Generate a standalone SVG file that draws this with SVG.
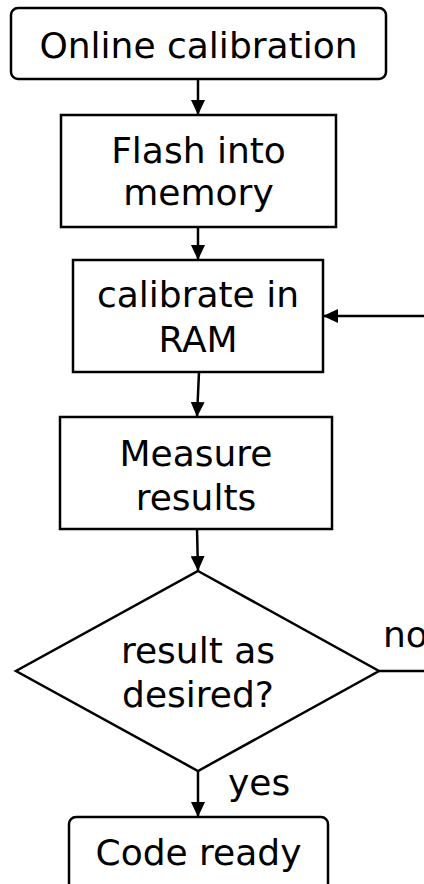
<svg xmlns="http://www.w3.org/2000/svg" width="424" height="884" viewBox="0 0 424 884">
<style>
.s{fill:#fff;stroke:#000;stroke-width:2.5}
.t{font-family:"DejaVu Sans",Verdana,sans-serif;font-size:36px;fill:#000;text-anchor:middle}
.l{font-family:"DejaVu Sans",Verdana,sans-serif;font-size:36px;fill:#000}
.c{fill:none;stroke:#000;stroke-width:2.5}
</style>
<defs>
<marker id="a" markerWidth="15" markerHeight="14" refX="15" refY="7" orient="auto" markerUnits="userSpaceOnUse">
<path d="M0,0 L15,7 L0,14 Z" fill="#000"/>
</marker>
</defs>
<rect width="424" height="884" fill="#fff"/>
<g id="connectors">
<line class="c" x1="198" y1="79" x2="198" y2="115" marker-end="url(#a)"/>
<line class="c" x1="198" y1="227" x2="198" y2="260" marker-end="url(#a)"/>
<line class="c" x1="199" y1="372" x2="197" y2="417" marker-end="url(#a)"/>
<line class="c" x1="197" y1="529" x2="198" y2="571" marker-end="url(#a)"/>
<line class="c" x1="198" y1="771" x2="198" y2="817" marker-end="url(#a)"/>
<line class="c" x1="379" y1="671" x2="426" y2="671"/>
<line class="c" x1="426" y1="316" x2="323" y2="316" marker-end="url(#a)"/>
<text class="l" x="383" y="647">no</text>
<text class="l" x="228" y="795">yes</text>
</g>
<g id="n1">
<rect class="s" x="11" y="8" width="375" height="71" rx="7"/>
<text class="t" x="198.5" y="58">Online calibration</text>
</g>
<g id="n2">
<rect class="s" x="61" y="115" width="275" height="112"/>
<text class="t" x="198.5" y="163">Flash into</text>
<text class="t" x="198.5" y="205">memory</text>
</g>
<g id="n3">
<rect class="s" x="73" y="260" width="250" height="112"/>
<text class="t" x="198" y="307">calibrate in</text>
<text class="t" x="198" y="352">RAM</text>
</g>
<g id="n4">
<rect class="s" x="60" y="417" width="272" height="112"/>
<text class="t" x="196" y="466">Measure</text>
<text class="t" x="196" y="510">results</text>
</g>
<g id="n5">
<polygon class="s" points="198,571 379,671 198,771 16,671"/>
<text class="t" x="198" y="663">result as</text>
<text class="t" x="198" y="707">desired?</text>
</g>
<g id="n6">
<rect class="s" x="69" y="817" width="259" height="80" rx="7"/>
<text class="t" x="198.5" y="865">Code ready</text>
</g>
</svg>
